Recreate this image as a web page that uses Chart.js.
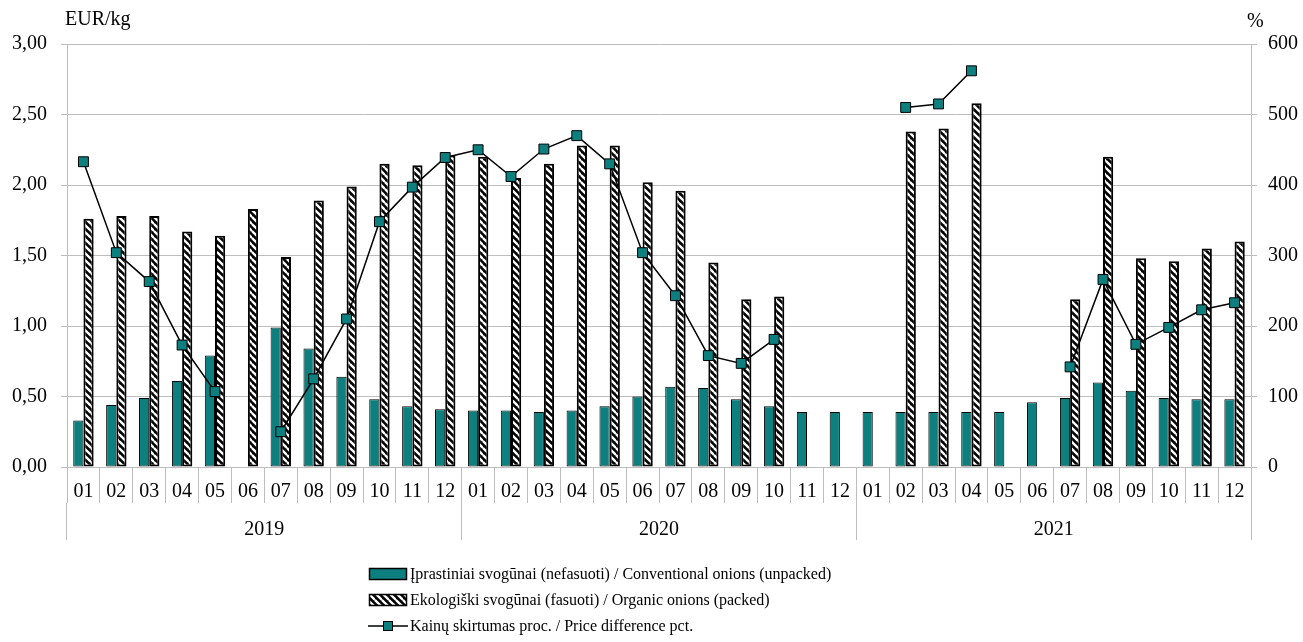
<!DOCTYPE html>
<html><head><meta charset="utf-8">
<script src="https://cdn.jsdelivr.net/npm/chart.js@4.4.1/dist/chart.umd.min.js"></script>
<style>
html,body{margin:0;padding:0;background:#fff;}
#wrap{position:relative;width:1303px;height:642px;font-family:'Liberation Serif','Times New Roman',serif;color:#000;}
#c{position:absolute;left:0;top:0;}
.t{position:absolute;font-size:20px;line-height:20px;white-space:nowrap;}
#legend{position:absolute;left:368px;top:561px;font-size:16px;}
.li{display:flex;align-items:center;height:26px;white-space:nowrap;}
.li canvas{margin-right:2px;}
</style></head>
<body>
<div id="wrap">
<canvas id="c" width="1303" height="642"></canvas>
<div class="t" style="left:65px;top:8px">EUR/kg</div>
<div class="t" style="left:1247px;top:10px">%</div>
<div id="legend"></div>
</div>
<script>
const months = ['01','02','03','04','05','06','07','08','09','10','11','12',
                '01','02','03','04','05','06','07','08','09','10','11','12',
                '01','02','03','04','05','06','07','08','09','10','11','12'];
const years = ['2019','2020','2021'];
const conventional = [0.33,0.44,0.49,0.61,0.79,null,0.99,0.84,0.64,0.48,0.43,0.41,
                      0.40,0.40,0.39,0.40,0.43,0.50,0.57,0.56,0.48,0.43,0.39,0.39,
                      0.39,0.39,0.39,0.39,0.39,0.46,0.49,0.60,0.54,0.49,0.48,0.48];
const organic = [1.76,1.78,1.78,1.67,1.64,1.83,1.49,1.89,1.99,2.15,2.14,2.21,
                 2.20,2.05,2.15,2.28,2.28,2.02,1.96,1.45,1.19,1.21,null,null,
                 null,2.38,2.40,2.58,null,null,1.19,2.20,1.48,1.46,1.55,1.60];
const priceDiff = [433,304,263,173,107,null,50,125,210,348,397,439,
                   450,412,451,470,430,304,243,158,147,181,null,null,
                   null,510,515,562,null,null,142,266,174,198,223,233];
const seriesLabels = ['Įprastiniai svogūnai (nefasuoti) / Conventional onions (unpacked)',
                      'Ekologiški svogūnai (fasuoti) / Organic onions (packed)',
                      'Kainų skirtumas proc. / Price difference pct.'];

const TEAL = '#0E7F7F';
const GRID = '#BDBDBD';
const FONT = "'Liberation Serif','Times New Roman',serif";

function hatchTile(){
  const c = document.createElement('canvas'); c.width = 7; c.height = 7;
  const g = c.getContext('2d');
  g.fillStyle = '#000'; g.fillRect(0,0,7,7);
  g.strokeStyle = '#fff'; g.lineWidth = 2.3;
  [[0,0],[-7,0],[7,0],[0,-7],[0,7]].forEach(([dx,dy])=>{
    g.beginPath(); g.moveTo(dx,dy); g.lineTo(dx+7,dy+7); g.stroke();
  });
  return c;
}
const ctx = document.getElementById('c').getContext('2d');
const hatch = ctx.createPattern(hatchTile(),'repeat');

const chart = new Chart(ctx, {
  data: {
    labels: months,
    datasets: [
      { type:'line', label: seriesLabels[2], data: priceDiff, yAxisID:'y2', xAxisID:'x', order:0,
        borderColor:'#000', borderWidth:1.5, spanGaps:false,
        pointStyle:'rect', pointRadius:7, pointHoverRadius:7,
        pointBackgroundColor:TEAL, pointBorderColor:'#000', pointBorderWidth:1 },
      { type:'bar', label: seriesLabels[0], data: conventional, yAxisID:'y', xAxisID:'x', order:1,
        backgroundColor:TEAL, borderColor:'#000', borderWidth:1, borderSkipped:false,
        categoryPercentage:0.62, barPercentage:1.0 },
      { type:'bar', label: seriesLabels[1], data: organic, yAxisID:'y', xAxisID:'x', order:1,
        backgroundColor:hatch, borderColor:'#000', borderWidth:2, borderSkipped:false,
        categoryPercentage:0.62, barPercentage:1.0 }
    ]
  },
  options: {
    responsive:false, devicePixelRatio:1, animation:false,
    layout:{ padding:{ top:44, bottom:102, left:0, right:0 } },
    plugins:{ legend:{display:false}, tooltip:{enabled:false}, title:{display:false} },
    scales:{
      x:{ type:'category', position:'bottom', weight:0, offset:true,
          grid:{ offset:true, drawOnChartArea:false, drawTicks:true, tickLength:36, color:GRID, lineWidth:1 },
          border:{ display:true, color:GRID },
          ticks:{ font:{family:FONT,size:20}, color:'#000', padding:-23, maxRotation:0, autoSkip:false },
          afterFit:(s)=>{ s.height = 36; } },
      x2:{ type:'category', labels: years, position:'bottom', weight:1, offset:true,
          grid:{ offset:true, drawOnChartArea:false, drawTicks:true, tickLength:37, color:GRID, lineWidth:1 },
          border:{ display:false },
          ticks:{ font:{family:FONT,size:20}, color:'#000', padding:-22, maxRotation:0, autoSkip:false },
          afterFit:(s)=>{ s.height = 37; } },
      y:{ position:'left', min:0, max:3,
          grid:{ color:GRID, lineWidth:1, tickLength:6 },
          border:{ display:true, color:GRID },
          ticks:{ stepSize:0.5, font:{family:FONT,size:20}, color:'#000', padding:14,
                  callback:(v)=>Number(v).toFixed(2).replace('.',',') },
          afterFit:(s)=>{ s.width = 67; } },
      y2:{ position:'right', min:0, max:600,
          grid:{ drawOnChartArea:false, color:GRID, lineWidth:1, tickLength:6 },
          border:{ display:true, color:GRID },
          ticks:{ stepSize:100, font:{family:FONT,size:20}, color:'#000', padding:11 },
          afterFit:(s)=>{ s.width = 52; } }
    }
  }
});

// HTML legend (one item per row), texts taken from the chart datasets
const legend = document.getElementById('legend');
[1,2,0].forEach(i=>{
  const ds = chart.data.datasets[i];
  const row = document.createElement('div'); row.className='li';
  const sw = document.createElement('canvas'); sw.width = 40; sw.height = 14;
  const g = sw.getContext('2d');
  if (ds.type === 'line') {
    g.strokeStyle='#000'; g.lineWidth=1.5;
    g.beginPath(); g.moveTo(0,7); g.lineTo(40,7); g.stroke();
    g.fillStyle=TEAL; g.fillRect(15,2,10,10);
    g.lineWidth=1; g.strokeRect(15.5,2.5,9,9);
  } else {
    g.fillStyle = ds.backgroundColor === TEAL ? TEAL : g.createPattern(hatchTile(),'repeat');
    g.fillRect(1,1,38,12);
    g.strokeStyle='#000'; g.lineWidth=1.5; g.strokeRect(1.5,1.5,37,11);
  }
  const tx = document.createElement('span'); tx.textContent = ds.label;
  row.appendChild(sw); row.appendChild(tx);
  legend.appendChild(row);
});
</script>
</body></html>
